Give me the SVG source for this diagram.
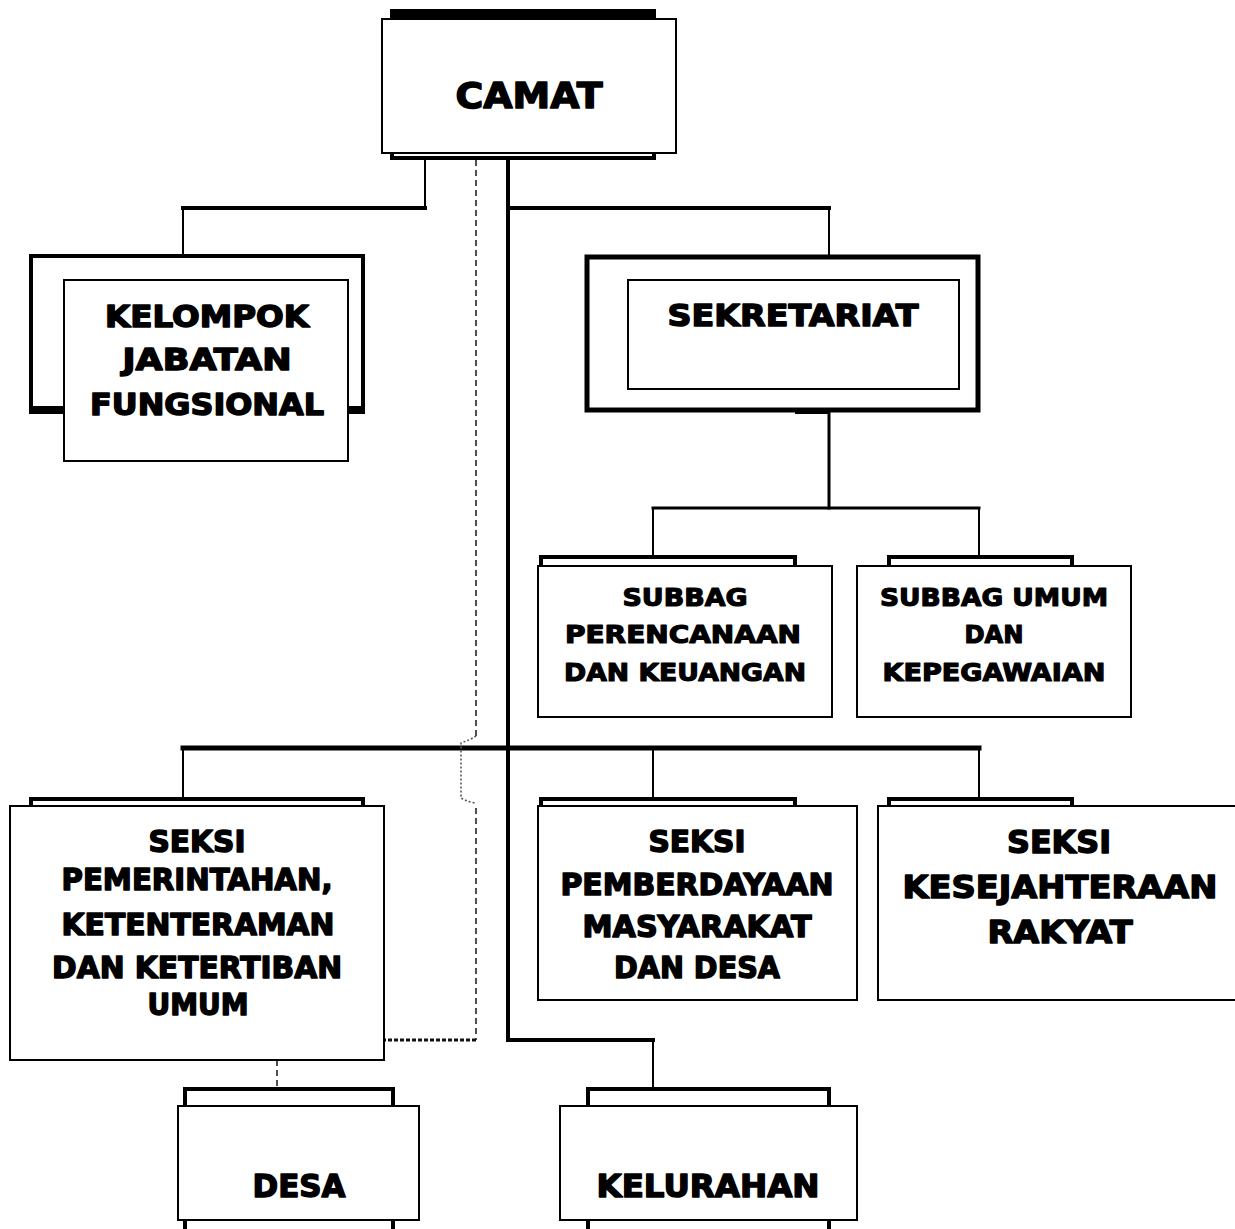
<svg xmlns="http://www.w3.org/2000/svg" width="1235" height="1229" viewBox="0 0 1235 1229">
<style>
.back{fill:#fff;stroke:#000;stroke-width:4}
.front{fill:#fff;stroke:#000;stroke-width:2}
.frame{fill:#fff;stroke:#000;stroke-width:5}
.t{font-family:"DejaVu Sans","Liberation Sans",sans-serif;font-weight:bold;fill:#000;stroke:#000;stroke-width:1.5;stroke-linejoin:round;text-anchor:middle}
.s{stroke-width:1.2}
.ln{fill:none;stroke:#000;stroke-linecap:square}
.dash{fill:none;stroke:#222;stroke-width:1.6;stroke-dasharray:6,4}
.dot{fill:none;stroke:#111;stroke-width:3;stroke-dasharray:4,2}
</style>
<rect width="1235" height="1229" fill="#fff"/>
<g id="connectors">
<path class="ln" stroke-width="2" d="M425,160 V208"/>
<path class="ln" stroke-width="4" d="M425,208 H183"/>
<path class="ln" stroke-width="2" d="M183,208 V256"/>
<path class="ln" stroke-width="4" d="M508,160 V1040 H653"/>
<path class="ln" stroke-width="2" d="M653,1040 V1088"/>
<path class="ln" stroke-width="4" d="M508,208 H829"/>
<path class="ln" stroke-width="2" d="M829,208 V256"/>
<path class="ln" stroke-width="3" d="M829,412 V508"/>
<path class="ln" stroke-width="3" d="M653,508 H979"/>
<path class="ln" stroke-width="2" d="M653,508 V556 M979,508 V556"/>
<path class="ln" stroke-width="5" d="M183,748 H979"/>
<path class="ln" stroke-width="2" d="M183,748 V798 M653,748 V798 M979,748 V798"/>
<path class="dash" d="M476,160 V736"/>
<path fill="none" stroke="#555" stroke-width="1.6" stroke-dasharray="2,2" d="M476,736 Q470,740 461,743 V798 Q468,802 476,803"/>
<path class="dash" d="M476,808 V1040"/>
<path class="dot" d="M476,1040 H385"/>
<path class="dash" d="M277,1060 V1088"/>
</g>
<g id="camat">
<rect class="back" x="392" y="13" width="262" height="145" stroke-width="5"/>
<rect x="390" y="9" width="266" height="9" fill="#000"/>
<rect class="front" x="382" y="19" width="294" height="134"/>
<text class="t" x="529" y="108" font-size="36" textLength="147" lengthAdjust="spacingAndGlyphs">CAMAT</text>
</g>
<g id="kelompok">
<rect class="back" x="31" y="256" width="332" height="155" stroke-width="5"/>
<rect x="29" y="406" width="336" height="8" fill="#000"/>
<rect class="front" x="64" y="280" width="284" height="181"/>
<text class="t" x="207" y="327" font-size="30" textLength="204" lengthAdjust="spacingAndGlyphs">KELOMPOK</text>
<text class="t" x="207" y="370" font-size="30" textLength="169" lengthAdjust="spacingAndGlyphs">JABATAN</text>
<text class="t" x="207" y="415" font-size="30" textLength="234" lengthAdjust="spacingAndGlyphs">FUNGSIONAL</text>
</g>
<g id="sekretariat">
<rect class="frame" x="587" y="257" width="391" height="153"/>
<rect x="795" y="408" width="33" height="6" fill="#000"/>
<rect class="front" x="628" y="280" width="331" height="109"/>
<text class="t" x="793" y="326" font-size="31" textLength="251" lengthAdjust="spacingAndGlyphs">SEKRETARIAT</text>
</g>
<g id="subbag-perencanaan">
<rect class="back" x="541" y="557" width="254" height="20" stroke-width="5"/>
<rect class="front" x="538" y="566" width="294" height="151"/>
<text class="t s" x="685" y="606" font-size="25" textLength="125" lengthAdjust="spacingAndGlyphs">SUBBAG</text>
<text class="t s" x="683" y="643" font-size="25" textLength="236" lengthAdjust="spacingAndGlyphs">PERENCANAAN</text>
<text class="t s" x="685" y="681" font-size="25" textLength="242" lengthAdjust="spacingAndGlyphs">DAN KEUANGAN</text>
</g>
<g id="subbag-umum">
<rect class="back" x="889" y="557" width="183" height="20" stroke-width="5"/>
<rect class="front" x="857" y="566" width="274" height="151"/>
<text class="t s" x="994" y="606" font-size="25" textLength="228" lengthAdjust="spacingAndGlyphs">SUBBAG UMUM</text>
<text class="t s" x="994" y="643" font-size="25" textLength="59" lengthAdjust="spacingAndGlyphs">DAN</text>
<text class="t s" x="994" y="681" font-size="25" textLength="223" lengthAdjust="spacingAndGlyphs">KEPEGAWAIAN</text>
</g>
<g id="seksi-pemerintahan">
<rect class="back" x="31" y="799" width="332" height="20" stroke-width="5"/>
<rect class="front" x="10" y="806" width="374" height="254"/>
<text class="t" x="197" y="852" font-size="30" textLength="97" lengthAdjust="spacingAndGlyphs">SEKSI</text>
<text class="t" x="197" y="890" font-size="30" textLength="271" lengthAdjust="spacingAndGlyphs">PEMERINTAHAN,</text>
<text class="t" x="198" y="935" font-size="30" textLength="273" lengthAdjust="spacingAndGlyphs">KETENTERAMAN</text>
<text class="t" x="197" y="978" font-size="30" textLength="290" lengthAdjust="spacingAndGlyphs">DAN KETERTIBAN</text>
<text class="t" x="198" y="1015" font-size="30" textLength="101" lengthAdjust="spacingAndGlyphs">UMUM</text>
</g>
<g id="seksi-pemberdayaan">
<rect class="back" x="541" y="799" width="254" height="20" stroke-width="5"/>
<rect class="front" x="538" y="806" width="319" height="194"/>
<text class="t" x="697" y="852" font-size="30" textLength="97" lengthAdjust="spacingAndGlyphs">SEKSI</text>
<text class="t" x="697" y="895" font-size="30" textLength="273" lengthAdjust="spacingAndGlyphs">PEMBERDAYAAN</text>
<text class="t" x="697" y="937" font-size="30" textLength="229" lengthAdjust="spacingAndGlyphs">MASYARAKAT</text>
<text class="t" x="697" y="978" font-size="30" textLength="166" lengthAdjust="spacingAndGlyphs">DAN DESA</text>
</g>
<g id="seksi-kesejahteraan">
<rect class="back" x="889" y="799" width="183" height="20" stroke-width="5"/>
<rect class="front" x="878" y="806" width="370" height="194"/>
<text class="t" x="1059" y="853" font-size="32" textLength="104" lengthAdjust="spacingAndGlyphs">SEKSI</text>
<text class="t" x="1060" y="898" font-size="32" textLength="315" lengthAdjust="spacingAndGlyphs">KESEJAHTERAAN</text>
<text class="t" x="1060" y="943" font-size="32" textLength="145" lengthAdjust="spacingAndGlyphs">RAKYAT</text>
</g>
<g id="desa">
<rect class="back" x="185" y="1089" width="208" height="160" stroke-width="5"/>
<rect class="front" x="178" y="1106" width="241" height="114"/>
<text class="t" x="299" y="1197" font-size="32" textLength="93" lengthAdjust="spacingAndGlyphs">DESA</text>
</g>
<g id="kelurahan">
<rect class="back" x="588" y="1089" width="241" height="160" stroke-width="5"/>
<rect class="front" x="560" y="1106" width="297" height="114"/>
<text class="t" x="708" y="1197" font-size="32" textLength="223" lengthAdjust="spacingAndGlyphs">KELURAHAN</text>
</g>
</svg>
